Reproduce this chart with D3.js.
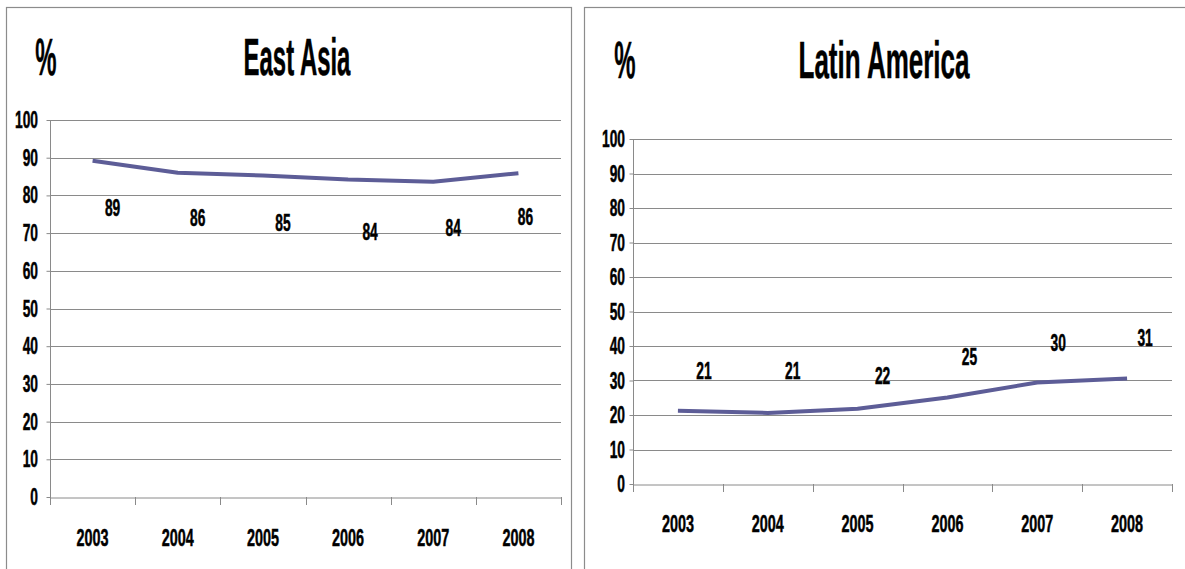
<!DOCTYPE html>
<html><head><meta charset="utf-8">
<script src="https://cdn.jsdelivr.net/npm/d3@7"></script>
<style>
body{margin:0;background:#fff;}
text{font-family:"Liberation Sans",Arial,sans-serif;font-weight:bold;fill:#000;stroke:#000;stroke-width:0.5px;}
</style></head><body>
<svg id="c" width="1185" height="569"></svg>
<script>
const years = ["2003","2004","2005","2006","2007","2008"];
const yTicks = [0,10,20,30,40,50,60,70,80,90,100];
const eastAsiaValues = [89.2, 86.0, 85.3, 84.2, 83.6, 85.9];
const eastAsiaLabels = ["89","86","85","84","84","86"];
const latinAmericaValues = [21.2, 20.6, 21.8, 25.1, 29.4, 30.6];
const latinAmericaLabels = ["21","21","22","25","30","31"];

const svg = d3.select("#c");
const GRID = "#8a8a8a";

function txt(g, x, y, s, size, sx, anchor){
  return g.append("text")
    .attr("transform",`translate(${x},${y}) scale(${sx},1)`)
    .attr("text-anchor",anchor||"middle")
    .attr("font-size",size)
    .text(s);
}

function panel(cfg){
  const g = svg.append("g");
  g.append("rect").attr("x",cfg.frame[0]).attr("y",cfg.frame[1]).attr("width",cfg.frame[2]).attr("height",cfg.frame[3])
    .attr("fill","none").attr("stroke","#8c8c8c").attr("stroke-width",1.2);
  const x = d3.scaleBand().domain(years).range([cfg.left,cfg.right]);
  const y = d3.scaleLinear().domain([0,100]).range([cfg.bottom,cfg.top]);
  g.append("g").selectAll("line").data(yTicks.filter(d=>d>0)).join("line")
    .attr("x1",cfg.left).attr("x2",cfg.right).attr("y1",d=>Math.round(y(d))+0.5).attr("y2",d=>Math.round(y(d))+0.5)
    .attr("stroke",GRID).attr("stroke-width",1);
  const ya = g.append("g").attr("transform",`translate(${cfg.left+0.5},0)`)
    .call(d3.axisLeft(y).tickValues(yTicks).tickSize(4).tickFormat(""));
  ya.select(".domain").attr("stroke",GRID).attr("d",`M0,${cfg.top}V${cfg.bottom}`);
  ya.selectAll(".tick line").attr("stroke",GRID);
  yTicks.forEach(v=>{
    txt(g, cfg.left-cfg.yLabGap, y(v)+8, String(v), cfg.tickFont, cfg.sx, "end");
  });
  const xa = g.append("g").attr("transform",`translate(0,${cfg.bottom+0.5})`)
    .call(d3.axisBottom(x).tickSize(0).tickFormat(""));
  xa.select(".domain").attr("stroke",GRID);
  g.append("g").selectAll("line").data(d3.range(years.length+1)).join("line")
    .attr("x1",i=>Math.round(cfg.left+i*x.step())+0.5).attr("x2",i=>Math.round(cfg.left+i*x.step())+0.5)
    .attr("y1",cfg.bottom).attr("y2",cfg.bottom+8).attr("stroke",GRID);
  years.forEach(yr=>{
    txt(g, x(yr)+x.bandwidth()/2, cfg.yearY, yr, cfg.yearFont, cfg.sx, "middle");
  });
  const line = d3.line().x((d,i)=>x(years[i])+x.bandwidth()/2).y(d=>y(d));
  g.append("path").datum(cfg.values).attr("d",line).attr("fill","none")
    .attr("stroke","#5d5d97").attr("stroke-width",4).attr("stroke-linejoin","round");
  cfg.values.forEach((v,i)=>{
    txt(g, x(years[i])+x.bandwidth()/2+cfg.labelOffsets[i][0], y(v)+cfg.labelOffsets[i][1]+8,
        cfg.labels[i], cfg.tickFont, cfg.sx, "middle");
  });
  txt(g, cfg.titleX, cfg.titleY, cfg.title, cfg.titleFont, cfg.titleSx, "middle");
  txt(g, cfg.pctX, cfg.titleY, "%", cfg.titleFont, 0.46, "middle");
}

panel({frame:[6.5,7.5,565,600], left:50, right:561, top:120, bottom:497, values:eastAsiaValues, labels:eastAsiaLabels,
  labelOffsets:[[20,47],[20,45],[20,48],[22,52],[20,46],[7,44]],
  tickFont:23, yearFont:24, sx:0.6, yLabGap:12, yearY:546,
  title:"East Asia", titleX:297, titleY:75, titleFont:52, titleSx:0.46, pctX:46});
panel({frame:[584.5,7.5,620,600], left:633, right:1172, top:139, bottom:484, values:latinAmericaValues, labels:latinAmericaLabels,
  labelOffsets:[[26,-40],[25,-42],[25,-33],[22,-40],[21,-40],[18,-40]],
  tickFont:23, yearFont:24, sx:0.6, yLabGap:8, yearY:532,
  title:"Latin America", titleX:884, titleY:78, titleFont:52, titleSx:0.5, pctX:625});
</script></body></html>
